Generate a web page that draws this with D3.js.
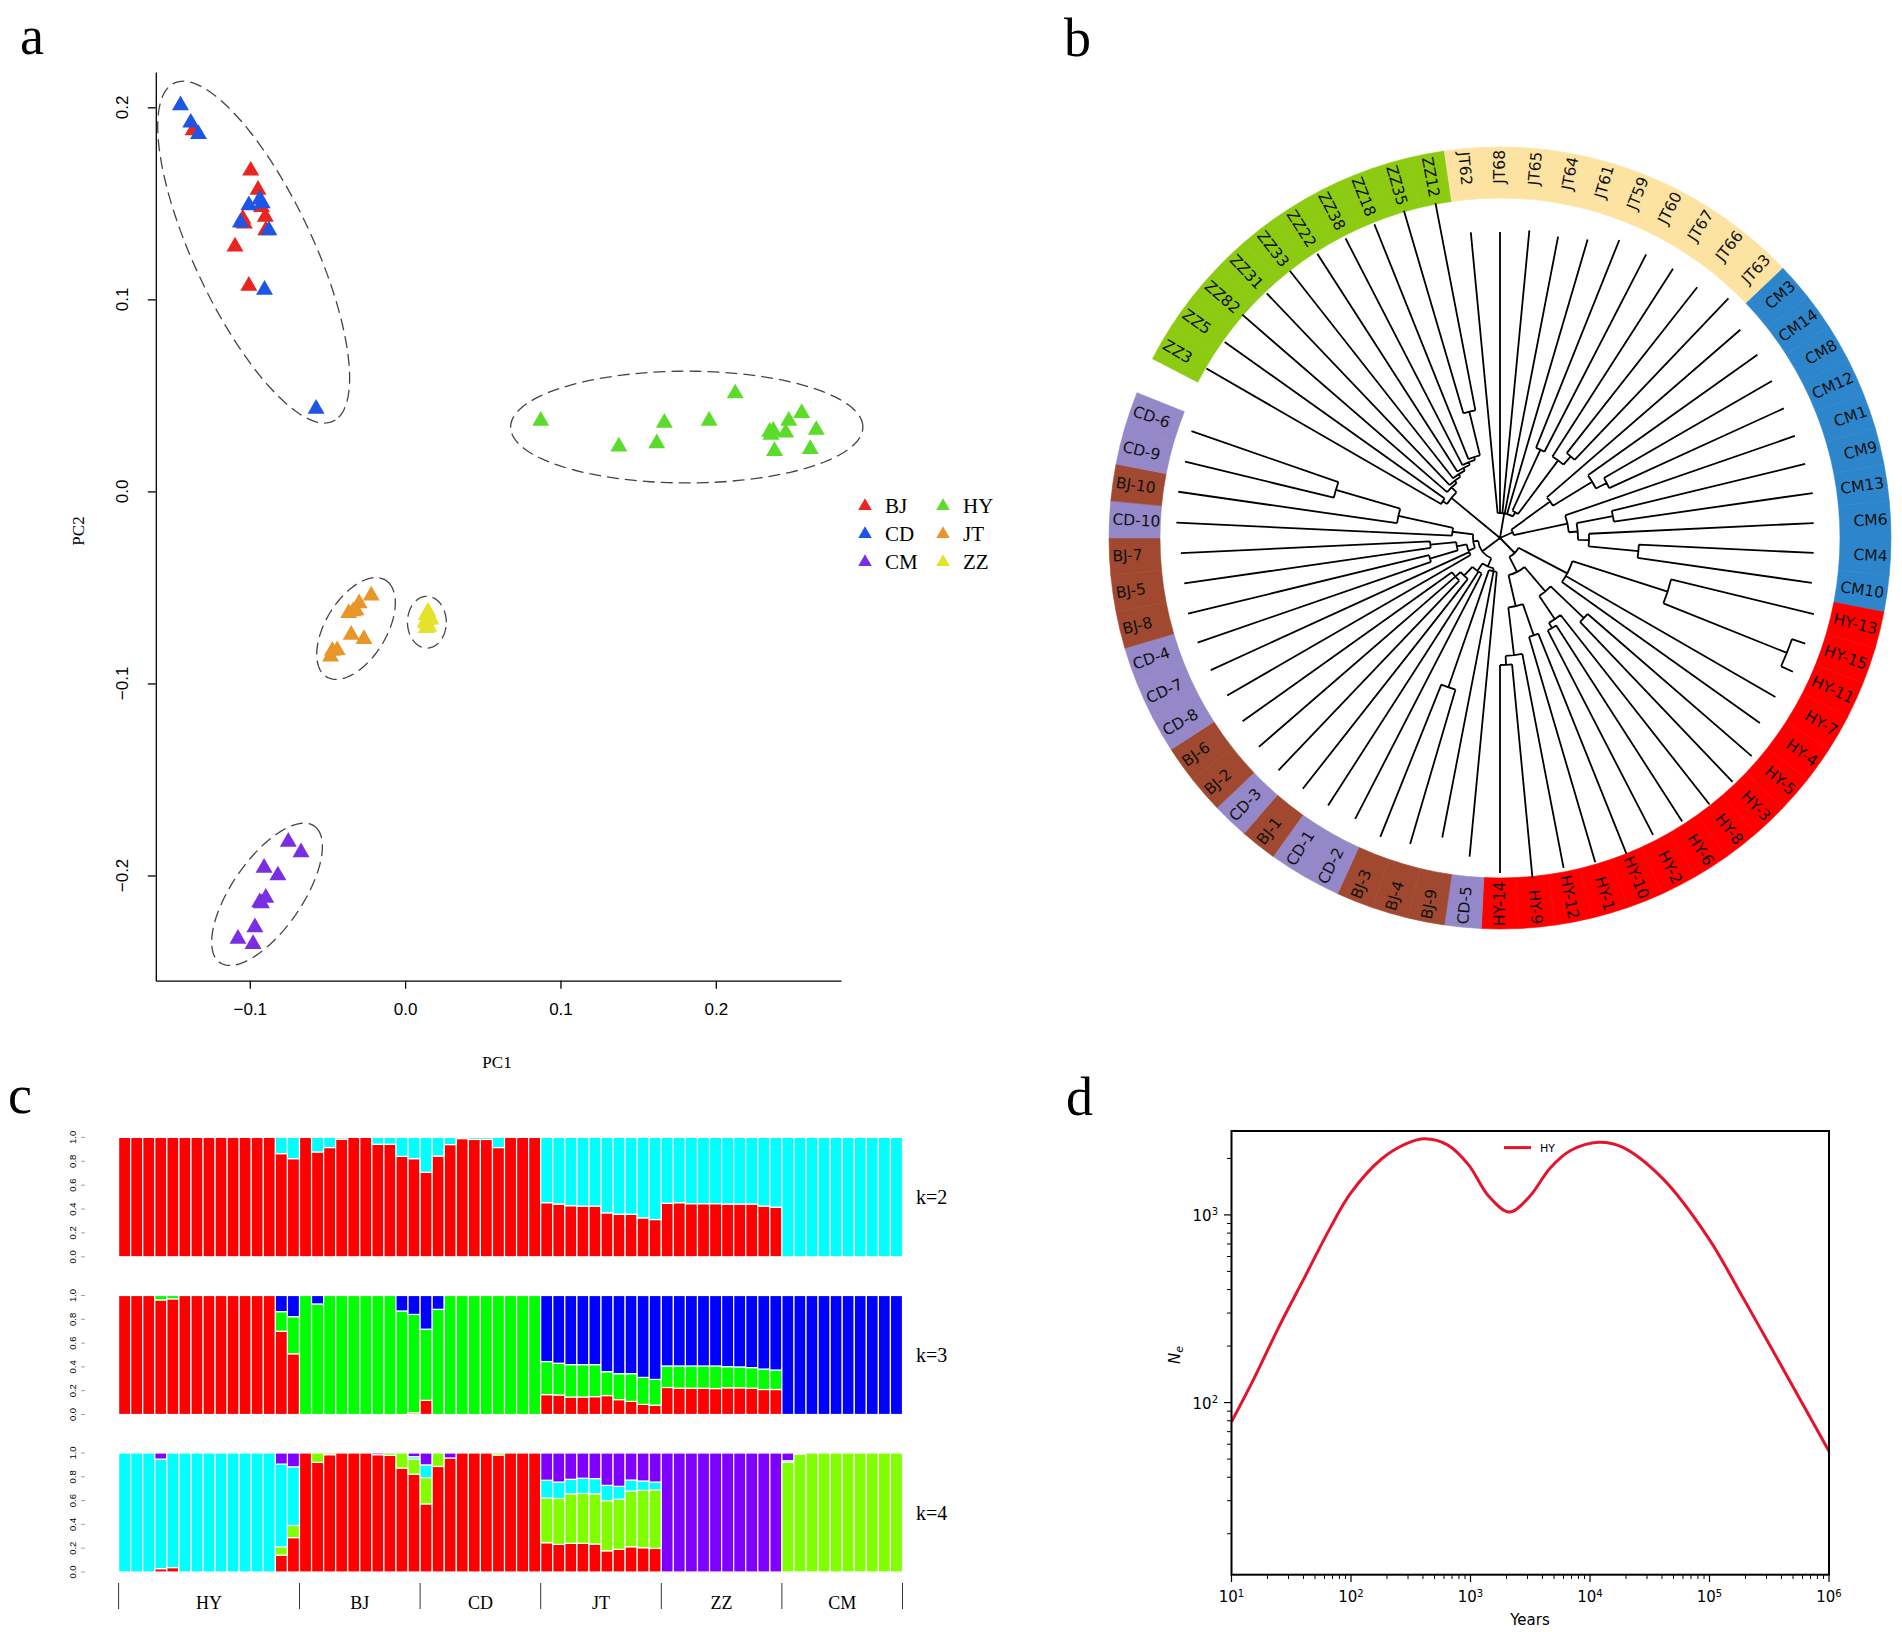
<!DOCTYPE html>
<html>
<head>
<meta charset="utf-8">
<script src="https://cdn.jsdelivr.net/npm/d3@7"></script>
<style>
body { margin: 0; background: #fff; }
svg { display: block; }
</style>
</head>
<body>
<script>
// ---------- panel a : PCA ----------
var pcaGroups = ["BJ", "CD", "CM", "HY", "JT", "ZZ"];
var pcaColors = ["#e8251f", "#1d55e6", "#7a2ee3", "#5cdc2a", "#e8952a", "#e4e22b"];
var pcaBJ = [[-0.1365,0.188],[-0.0994,0.167],[-0.0947,0.157],[-0.1045,0.142],[-0.090,0.143],
             [-0.0897,0.136],[-0.1095,0.1275],[-0.1006,0.107],[-0.0925,0.148],[-0.1035,0.1395]];
var pcaCD = [[-0.1446,0.201],[-0.138,0.192],[-0.133,0.186],[-0.1006,0.149],[-0.0936,0.152],
             [-0.092,0.150],[-0.106,0.140],[-0.0877,0.136],[-0.0905,0.105],[-0.0573,0.043]];
var pcaCM = [[-0.0752,-0.1825],[-0.067,-0.188],[-0.0908,-0.196],[-0.0819,-0.2],[-0.0897,-0.2117],
             [-0.0936,-0.214],[-0.0967,-0.227],[-0.1076,-0.233],[-0.0979,-0.2357],[-0.0925,-0.2145]];
var pcaHY = [[0.0873,0.0368],[0.1376,0.0233],[0.162,0.025],[0.1669,0.0357],[0.1957,0.0368],
             [0.2125,0.051],[0.2347,0.031],[0.237,0.0315],[0.2378,0.021],[0.245,0.0306],
             [0.247,0.0368],[0.2553,0.0408],[0.2608,0.022],[0.2647,0.032],[0.2355,0.0295]];
var pcaJT = [[-0.0218,-0.0543],[-0.0296,-0.0583],[-0.0316,-0.062],[-0.0363,-0.0634],[-0.0347,-0.0747],
             [-0.0265,-0.0769],[-0.0468,-0.083],[-0.0437,-0.0827],[-0.048,-0.086],[-0.0335,-0.0625]];
var pcaZZ = [[0.0148,-0.0627],[0.0135,-0.0645],[0.0158,-0.0655],[0.0142,-0.067],[0.0165,-0.0668],
             [0.0128,-0.0683],[0.014,-0.069],[0.0152,-0.0705],[0.0136,-0.0712],[0.0147,-0.0665]];
var pcaPoints = [pcaBJ, pcaCD, pcaCM, pcaHY, pcaJT, pcaZZ];
var pcaTicks = [-0.1, 0.0, 0.1, 0.2];
var pcaYTicks = [-0.2, -0.1, 0.0, 0.1, 0.2];

// cluster ellipses: centre and two half-axis vectors, data units
var ellCentre = [[-0.0975,0.1246],[0.1813,0.0335],[-0.0316,-0.0714],[0.0140,-0.0681],[-0.0889,-0.2098]];
var ellAxisU  = [[0.0526,-0.0874],[0.1134,0],[0.02066,0.02415],[0.01248,0],[0.03168,0.0347]];
var ellAxisV  = [[-0.0324,-0.0169],[0,0.0291],[0.01459,-0.01093],[0,0.01348],[0.01634,-0.01302]];

// ---------- panel b : tree ----------
var treeNewick = "(" +
  "((ZZ3:0.271,ZZ5:0.270):0.005,(ZZ82:0.271,(ZZ31:0.265,(ZZ33:0.264,(ZZ22:0.259,(ZZ38:0.255,(ZZ18:0.253,(ZZ35:0.211,ZZ12:0.211):0.045):0.003):0.003):0.003):0.003):0.003):0.007):0.063," +
  "(JT62:0.282,JT68:0.281,JT65:0.284,JT64:0.282,JT61:0.286,((JT59:0.224,JT60:0.222):0.067,(JT67:0.223,(JT66:0.211,JT63:0.223):0.011):0.067):0.005):0.025," +
  "((CM3:0.256,(CM14:0.208,(CM8:0.194,CM12:0.192):0.012):0.046):0.048,(CM1:0.243,((CM9:0.199,CM13:0.201):0.037,(CM6:0.225,(CM4:0.175,CM10:0.176):0.050):0.011):0.009):0.055):0.014," +
  "(((HY-13:0.147,(HY-15:0.014,HY-11:0.013):0.133):0.100,HY-7:0.242,HY-4:0.243):0.055,(((HY-5:0.217,HY-3:0.221):0.046,(HY-8:0.241,(HY-6:0.233,HY-2:0.230):0.006):0.028):0.032,((HY-10:0.237,HY-1:0.235):0.033,(HY-12:0.218,(HY-9:0.215,HY-14:0.208):0.009):0.048):0.032):0.017):0.021," +
  "(((CD-5:0.286,BJ-9:0.271,(BJ-4:0.161,BJ-3:0.164):0.124):0.003,(CD-2:0.276,CD-1:0.278,(BJ-1:0.267,(CD-3:0.262,BJ-2:0.260,BJ-6:0.257):0.007):0.012):0.009):0.009,((CD-8:0.281,CD-7:0.284,((CD-4:0.247,BJ-8:0.248):0.029,(BJ-5:0.249,BJ-7:0.2495):0.026):0.010):0.007,(CD-10:0.276,(BJ-10:0.221,(CD-9:0.153,CD-6:0.1555):0.067):0.056):0.021):0.005):0.022" +
  ");";
var treeGroups = ["ZZ", "JT", "CM", "HY", "CD", "BJ"];
var treeBand   = ["#8dca12", "#fde3a2", "#2d86cc", "#fe0000", "#9488c8", "#a04930"];

// ---------- panel c : admixture ----------
var admixPops = ["HY", "BJ", "CD", "JT", "ZZ", "CM"];
var admixSizes = [15, 10, 10, 10, 10, 10];
// cumulative tops of each component, bottom to top
var k2Red = [1,1,1,1,1,1,1,1,1,1,1,1,1,0.864,0.822,
  1,0.878,0.915,0.986,1,1,0.943,0.943,0.841,0.822,
  0.708,0.844,0.94,0.99,0.983,0.983,0.915,1,1,1,
  0.453,0.442,0.428,0.425,0.425,0.368,0.357,0.357,0.326,0.312,
  0.448,0.453,0.445,0.445,0.445,0.442,0.442,0.442,0.425,0.416,
  0,0,0,0,0,0,0,0,0,0];
var k3Red = [1,1,1,0.963,0.972,1,1,1,1,1,1,1,1,0.70,0.51,
  0,0,0,0,0,0,0,0,0,0.014,
  0.119,0,0,0,0,0,0,0,0,0,
  0.167,0.164,0.147,0.147,0.150,0.159,0.125,0.110,0.085,0.079,
  0.227,0.221,0.221,0.221,0.218,0.224,0.224,0.221,0.21,0.21,
  0,0,0,0,0,0,0,0,0,0];
var k3Green = [1,1,1,1,1,1,1,1,1,1,1,1,1,0.864,0.822,
  1,0.929,1,1,1,1,1,1,0.87,0.841,
  0.717,0.884,1,1,1,1,1,1,1,1,
  0.445,0.431,0.419,0.419,0.419,0.36,0.343,0.343,0.312,0.295,
  0.408,0.408,0.408,0.408,0.408,0.402,0.4,0.394,0.382,0.374,
  0,0,0,0,0,0,0,0,0,0];
var k4Red = [0,0,0,0.028,0.037,0,0,0,0,0,0,0,0,0.142,0.289,
  1,0.921,0.986,1,1,1,0.986,0.98,0.873,0.822,
  0.572,0.887,0.958,1,1,1,0.983,1,1,1,
  0.246,0.232,0.241,0.241,0.235,0.178,0.19,0.212,0.204,0.198,
  0,0,0,0,0,0,0,0,0,0,
  0,0,0,0,0,0,0,0,0,0];
var k4Lime = [0,0,0,0.028,0.037,0,0,0,0,0,0,0,0,0.212,0.391,
  1,1,1,1,1,1,0.986,1,1,0.949,
  0.793,1,0.958,1,1,1,1,1,1,1,
  0.623,0.618,0.657,0.66,0.657,0.60,0.612,0.68,0.686,0.691,
  0,0,0,0,0,0,0,0,0,0,
  0.921,0.99,1,1,1,1,1,1,1,1];
var k4Cyan = [1,1,1,0.949,1,1,1,1,1,1,1,1,1,0.907,0.884,
  1,1,1,1,1,1,0.986,1,1,0.969,
  0.90,1,0.958,1,1,1,1,1,1,1,
  0.771,0.756,0.779,0.788,0.785,0.728,0.72,0.773,0.765,0.756,
  0,0,0,0,0,0,0,0,0,0,
  0.935,0.99,1,1,1,1,1,1,1,1];
var admixTicks = [0, 0.2, 0.4, 0.6, 0.8, 1.0];

// ---------- panel d : PSMC ----------
var psmcYears = [10,15.3,25,41,67,100,179,294,415,647,960,1422,2113,3133,4645,6887,11858,18450,40640,98600,177800,291700,477500,1000000];
var psmcNe    = [79,133,254,466,853,1313,1980,2404,2543,2355,1854,1257,1035,1257,1778,2203,2438,2302,1560,748,392,224,128,55];
var psmcXTicks = [1, 2, 3, 4, 5, 6];
var psmcYTicks = [2, 3];

var serif = "'Liberation Serif','Times New Roman',serif";
var sans = "'Liberation Sans',Arial,sans-serif";
var dejavu = "'DejaVu Sans',sans-serif";

var svg = d3.select("body").append("svg")
    .attr("width", 1902)
    .attr("height", 1632)
    .style("background", "#fff");

// panel letters
[["a", 20, 54], ["b", 1064, 56], ["c", 8, 1113], ["d", 1066, 1115]].forEach(function(l) {
    svg.append("text").attr("x", l[1]).attr("y", l[2]).text(l[0])
        .style("font-family", serif).style("font-size", "54px");
});

/* ================= a ================= */
var ax = d3.scaleLinear().domain([-0.1605, 0.2806]).range([155.8, 841]);
var ay = d3.scaleLinear().domain([-0.2548, 0.2184]).range([980.7, 72]);
var ga = svg.append("g").attr("id", "pca");

ga.append("g")
    .attr("transform", "translate(0,980.7)")
    .call(d3.axisBottom(ax).tickValues(pcaTicks).tickFormat(d3.format(".1f")).tickSize(8).tickSizeOuter(0))
    .call(function(g) {
        g.selectAll("text").attr("dy", "1.35em").style("font-family", sans).style("font-size", "17px").attr("fill", "#000");
        g.selectAll("path,line").attr("stroke", "#000").attr("stroke-width", 1.3);
    });

ga.append("g")
    .attr("transform", "translate(155.8,0)")
    .call(d3.axisLeft(ay).tickValues(pcaYTicks).tickFormat("").tickSize(8).tickSizeOuter(0))
    .call(function(g) { g.selectAll("path,line").attr("stroke", "#000").attr("stroke-width", 1.3); });

ga.selectAll("text.ylab").data(pcaYTicks).enter().append("text")
    .attr("class", "ylab")
    .attr("transform", function(d) { return "translate(128," + ay(d) + ") rotate(-90)"; })
    .attr("text-anchor", "middle")
    .style("font-family", sans).style("font-size", "17px")
    .text(function(d) { return d3.format(".1f")(d); });

ga.append("text").attr("x", 497).attr("y", 1068).attr("text-anchor", "middle")
    .style("font-family", serif).style("font-size", "17px").text("PC1");
ga.append("text").attr("transform", "translate(84,531) rotate(-90)").attr("text-anchor", "middle")
    .style("font-family", serif).style("font-size", "17px").text("PC2");

// dashed ellipses
var ellLine = d3.line().x(function(d) { return ax(d[0]); }).y(function(d) { return ay(d[1]); }).curve(d3.curveLinearClosed);
ellCentre.forEach(function(c, i) {
    var u = ellAxisU[i], v = ellAxisV[i];
    var pts = d3.range(0, 120).map(function(k) {
        var t = k / 120 * 2 * Math.PI;
        return [c[0] + Math.cos(t) * u[0] + Math.sin(t) * v[0], c[1] + Math.cos(t) * u[1] + Math.sin(t) * v[1]];
    });
    ga.append("path").attr("d", ellLine(pts))
        .attr("fill", "none").attr("stroke", "#444").attr("stroke-width", 1.3)
        .attr("stroke-dasharray", "12,6");
});

var tri = d3.symbol().type(d3.symbolTriangle).size(125);
pcaPoints.forEach(function(pts, gi) {
    ga.selectAll("path.g" + gi).data(pts).enter().append("path")
        .attr("class", "g" + gi)
        .attr("d", tri)
        .attr("transform", function(d) { return "translate(" + ax(d[0]) + "," + ay(d[1]) + ")"; })
        .attr("fill", pcaColors[gi]);
});

// legend
var triSmall = d3.symbol().type(d3.symbolTriangle).size(80);
pcaGroups.forEach(function(g, i) {
    var col = Math.floor(i / 3), row = i % 3;
    var lx = 865 + col * 78, ly = 506 + row * 28;
    ga.append("path").attr("d", triSmall).attr("transform", "translate(" + lx + "," + ly + ")").attr("fill", pcaColors[i]);
    ga.append("text").attr("x", lx + 20).attr("y", ly + 7)
        .style("font-family", serif).style("font-size", "21px").text(g);
});

/* ================= b ================= */
function parseNewick(s) {
    var ancestors = [], tree = {}, tokens = s.split(/\s*(;|\(|\)|,|:)\s*/);
    for (var i = 0; i < tokens.length; i++) {
        var t = tokens[i], sub;
        switch (t) {
            case "(": sub = {}; tree.children = [sub]; ancestors.push(tree); tree = sub; break;
            case ",": sub = {}; ancestors[ancestors.length - 1].children.push(sub); tree = sub; break;
            case ")": tree = ancestors.pop(); break;
            case ":": break;
            default:
                var x = tokens[i - 1];
                if (x == ")" || x == "(" || x == ",") tree.name = t;
                else if (x == ":") tree.length = parseFloat(t);
        }
    }
    return tree;
}

var cx = 1500, cy = 538;
var root = d3.hierarchy(parseNewick(treeNewick));
root.eachBefore(function(d) { d.len = d.parent ? d.parent.len + (d.data.length || 0) : 0; });
var slot = 360 / 66;
var leaves = root.leaves();
leaves.forEach(function(d, i) { d.ang = -60 + i * slot; });
root.eachAfter(function(d) { if (d.children) d.ang = d3.mean(d.children, function(c) { return c.ang; }); });

var rs = d3.scaleLinear().domain([0, 0.342]).range([0, 342]);
function polar(a, r) {
    var t = a * Math.PI / 180;
    return [cx + r * Math.sin(t), cy - r * Math.cos(t)];
}

var gb = svg.append("g").attr("id", "tree");

// coloured ring
var band = d3.arc().innerRadius(340).outerRadius(391);
var bandColor = d3.scaleOrdinal().domain(treeGroups).range(treeBand);
function groupOf(name) { return name.replace(/[-0-9]+$/, ""); }
gb.selectAll("path.band").data(leaves).enter().append("path")
    .attr("class", "band")
    .attr("transform", "translate(" + cx + "," + cy + ")")
    .attr("d", function(d) {
        return band({ startAngle: (d.ang - slot / 2) * Math.PI / 180, endAngle: (d.ang + slot / 2) * Math.PI / 180 });
    })
    .attr("fill", function(d) { return bandColor(groupOf(d.data.name)); })
    .attr("stroke", function(d) { return bandColor(groupOf(d.data.name)); })
    .attr("stroke-width", 0.6);

// branches
var p = d3.path();
root.descendants().forEach(function(d) {
    if (d.parent) {
        var a = polar(d.ang, rs(d.parent.len)), b = polar(d.ang, rs(d.len));
        p.moveTo(a[0], a[1]); p.lineTo(b[0], b[1]);
    }
    if (d.children && d.parent) {
        var a0 = d.children[0].ang, a1 = d.children[d.children.length - 1].ang, r = rs(d.len);
        var s = polar(a0, r);
        p.moveTo(s[0], s[1]);
        p.arc(cx, cy, r, (a0 - 90) * Math.PI / 180, (a1 - 90) * Math.PI / 180, false);
    }
});
gb.append("path").attr("d", p.toString()).attr("fill", "none").attr("stroke", "#000").attr("stroke-width", 1.8);

// labels
gb.selectAll("text.tip").data(leaves).enter().append("text")
    .attr("class", "tip")
    .attr("transform", function(d) {
        var a = (d.ang + 360) % 360, q = polar(d.ang, 388);
        var rot = a < 180 ? a - 90 : a + 90;
        return "translate(" + q[0] + "," + q[1] + ") rotate(" + rot + ")";
    })
    .attr("text-anchor", function(d) { return ((d.ang + 360) % 360) < 180 ? "end" : "start"; })
    .attr("dominant-baseline", "central")
    .style("font-family", dejavu).style("font-size", "15.5px").attr("fill", "#111")
    .text(function(d) { return d.data.name; });

/* ================= c ================= */
var gc = svg.append("g").attr("id", "admix");
var nBars = k2Red.length;
var bx = d3.scaleBand().domain(d3.range(nBars)).range([118.6, 902.5]);
var panels = [
    { top: 1137.4, bottom: 1256.8, label: "k=2", bounds: [k2Red], colors: ["#ff0000", "#00ffff"] },
    { top: 1295.5, bottom: 1414.5, label: "k=3", bounds: [k3Red, k3Green], colors: ["#ff0000", "#00ff00", "#0000ff"] },
    { top: 1453.0, bottom: 1572.0, label: "k=4", bounds: [k4Red, k4Lime, k4Cyan], colors: ["#ff0000", "#80ff00", "#00ffff", "#8000ff"] }
];
panels.forEach(function(pn) {
    var y = d3.scaleLinear().domain([0, 1]).range([pn.bottom, pn.top]);
    var segs = [];
    d3.range(nBars).forEach(function(i) {
        var lo = 0;
        pn.colors.forEach(function(col, k) {
            var hi = k < pn.bounds.length ? pn.bounds[k][i] : 1;
            if (hi > lo) segs.push({ i: i, lo: lo, hi: hi, c: col });
            lo = Math.max(lo, hi);
        });
    });
    gc.append("g").selectAll("rect").data(segs).enter().append("rect")
        .attr("x", function(d) { return bx(d.i); })
        .attr("width", bx.bandwidth())
        .attr("y", function(d) { return y(d.hi); })
        .attr("height", function(d) { return y(d.lo) - y(d.hi); })
        .attr("fill", function(d) { return d.c; })
        .attr("stroke", "#fff").attr("stroke-width", 1.2);
    gc.append("g").selectAll("text").data(admixTicks).enter().append("text")
        .attr("transform", function(d) { return "translate(76," + y(d) + ") rotate(-90)"; })
        .attr("text-anchor", "middle")
        .style("font-family", sans).style("font-size", "9.5px")
        .text(function(d) { return d3.format(".1f")(d); });
    gc.append("g").selectAll("line").data(admixTicks).enter().append("line")
        .attr("x1", 81).attr("x2", 85).attr("y1", function(d) { return y(d); }).attr("y2", function(d) { return y(d); })
        .attr("stroke", "#888").attr("stroke-width", 0.8);
    gc.append("text").attr("x", 916).attr("y", (pn.top + pn.bottom) / 2 + 7)
        .style("font-family", serif).style("font-size", "20px").text(pn.label);
});
var cum = [0];
admixSizes.forEach(function(s) { cum.push(cum[cum.length - 1] + s); });
cum.forEach(function(c) {
    var xx = c < nBars ? bx(c) : bx(nBars - 1) + bx.bandwidth();
    gc.append("line").attr("x1", xx).attr("x2", xx).attr("y1", 1583).attr("y2", 1609)
        .attr("stroke", "#333").attr("stroke-width", 1);
});
admixPops.forEach(function(pop, i) {
    var x0 = bx(cum[i]), x1 = cum[i + 1] < nBars ? bx(cum[i + 1]) : bx(nBars - 1) + bx.bandwidth();
    gc.append("text").attr("x", (x0 + x1) / 2).attr("y", 1609).attr("text-anchor", "middle")
        .style("font-family", serif).style("font-size", "18px").text(pop);
});

/* ================= d ================= */
var gd = svg.append("g").attr("id", "psmc");
var dx = d3.scaleLog().domain([10, 1e6]).range([1231.5, 1829]);
var dy = d3.scaleLog().domain([12.1, 2800]).range([1574.7, 1131]);

// minor + major ticks
var xMinor = [], yMinor = [];
for (var e = 1; e < 6; e++) for (var m = 2; m < 10; m++) xMinor.push(m * Math.pow(10, e));
for (var e2 = 1; e2 < 4; e2++) for (var m2 = 1; m2 < 10; m2++) {
    var v = m2 * Math.pow(10, e2);
    if (v > 12.1 && v < 2800 && m2 != 1) yMinor.push(v);
}
gd.selectAll("line.xmin").data(xMinor).enter().append("line")
    .attr("x1", function(d) { return dx(d); }).attr("x2", function(d) { return dx(d); })
    .attr("y1", 1574.7).attr("y2", 1579).attr("stroke", "#000").attr("stroke-width", 1);
gd.selectAll("line.xmaj").data(psmcXTicks).enter().append("line")
    .attr("x1", function(d) { return dx(Math.pow(10, d)); }).attr("x2", function(d) { return dx(Math.pow(10, d)); })
    .attr("y1", 1574.7).attr("y2", 1582).attr("stroke", "#000").attr("stroke-width", 1.2);
gd.selectAll("line.ymin").data(yMinor).enter().append("line")
    .attr("y1", function(d) { return dy(d); }).attr("y2", function(d) { return dy(d); })
    .attr("x1", 1231.5).attr("x2", 1227).attr("stroke", "#000").attr("stroke-width", 1);
gd.selectAll("line.ymaj").data(psmcYTicks).enter().append("line")
    .attr("y1", function(d) { return dy(Math.pow(10, d)); }).attr("y2", function(d) { return dy(Math.pow(10, d)); })
    .attr("x1", 1231.5).attr("x2", 1224).attr("stroke", "#000").attr("stroke-width", 1.2);

psmcXTicks.forEach(function(t) {
    var tx = gd.append("text").attr("x", dx(Math.pow(10, t))).attr("y", 1602).attr("text-anchor", "middle")
        .style("font-family", dejavu).style("font-size", "15px");
    tx.append("tspan").text("10");
    tx.append("tspan").attr("dy", "-0.55em").style("font-size", "10px").text(t);
});
psmcYTicks.forEach(function(t) {
    var ty = gd.append("text").attr("x", 1218).attr("y", dy(Math.pow(10, t)) + 6).attr("text-anchor", "end")
        .style("font-family", dejavu).style("font-size", "15px");
    ty.append("tspan").text("10");
    ty.append("tspan").attr("dy", "-0.55em").style("font-size", "10px").text(t);
});

var psmcLine = d3.line()
    .x(function(d, i) { return dx(psmcYears[i]); })
    .y(function(d) { return dy(d); })
    .curve(d3.curveCatmullRom.alpha(0.5));
gd.append("path").attr("d", psmcLine(psmcNe))
    .attr("fill", "none").attr("stroke", "#e4142c").attr("stroke-width", 3);

gd.append("rect").attr("x", 1231.5).attr("y", 1131).attr("width", 1829 - 1231.5).attr("height", 1574.7 - 1131)
    .attr("fill", "none").attr("stroke", "#000").attr("stroke-width", 2);

gd.append("line").attr("x1", 1504).attr("x2", 1531).attr("y1", 1147.6).attr("y2", 1147.6)
    .attr("stroke", "#e4142c").attr("stroke-width", 3);
gd.append("text").attr("x", 1540).attr("y", 1152).style("font-family", dejavu).style("font-size", "11px").text("HY");

gd.append("text").attr("x", 1530).attr("y", 1625).attr("text-anchor", "middle")
    .style("font-family", dejavu).style("font-size", "15px").text("Years");
var ne = gd.append("text").attr("transform", "translate(1180,1355) rotate(-90)").attr("text-anchor", "middle")
    .style("font-family", dejavu).style("font-size", "15px");
ne.append("tspan").style("font-style", "italic").text("N");
ne.append("tspan").attr("dy", "0.3em").style("font-size", "11px").style("font-style", "italic").text("e");
</script>
</body>
</html>
